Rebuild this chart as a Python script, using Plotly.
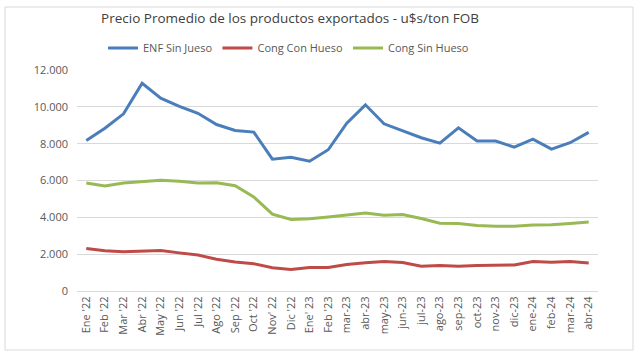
import plotly.graph_objects as go

months = ["Ene '22", "Feb '22", "Mar '22", "Abr '22", "May '22", "Jun '22", "Jul '22",
          "Ago '22", "Sep '22", "Oct '22", "Nov' 22", "Dic '22", "Ene' 23", "Feb '23",
          "mar-23", "abr-23", "may-23", "jun-23", "jul-23", "ago-23", "sep-23", "oct-23",
          "nov-23", "dic-23", "ene-24", "feb-24", "mar-24", "abr-24"]

enf_sin_jueso = [8170, 8840, 9620, 11280, 10470, 10030, 9650, 9040, 8720, 8630, 7160, 7260,
                 7050, 7670, 9110, 10110, 9080, 8720, 8320, 8030, 8860, 8140, 8140, 7810,
                 8250, 7700, 8050, 8610]
cong_con_hueso = [2310, 2180, 2130, 2160, 2200, 2070, 1950, 1720, 1570, 1480, 1260, 1170,
                  1280, 1280, 1440, 1530, 1600, 1550, 1350, 1390, 1350, 1390, 1410, 1410,
                  1600, 1560, 1600, 1520]
cong_sin_hueso = [5860, 5700, 5860, 5955, 6010, 5955, 5860, 5880, 5720, 5110, 4170, 3880,
                  3920, 4020, 4110, 4240, 4110, 4150, 3940, 3680, 3670, 3560, 3520, 3520,
                  3590, 3600, 3670, 3740]

y_ticks = [0, 2000, 4000, 6000, 8000, 10000, 12000]
y_labels = ["0", "2.000", "4.000", "6.000", "8.000", "10.000", "12.000"]

font_family = "Open Sans, Noto Sans, sans-serif"
text_color = "#595959"

fig = go.Figure()
series = [
    ("ENF Sin Jueso", enf_sin_jueso, "#4A7EBB"),
    ("Cong Con Hueso", cong_con_hueso, "#BE4B48"),
    ("Cong Sin Hueso", cong_sin_hueso, "#98B954"),
]
for name, vals, color in series:
    fig.add_trace(go.Scatter(x=list(range(len(months))), y=vals, name=name, mode="lines",
                             line=dict(color=color, width=3)))

L, R, T, B = 77, 42, 70, 63
W, H = 640, 354
pw, ph = W - L - R, H - T - B

def px_to_paper_x(px):
    return (px - L) / pw

def px_to_paper_y(py):
    return (H - B - py) / ph

fig.update_layout(
    width=W, height=H,
    margin=dict(l=L, r=R, t=T, b=B),
    paper_bgcolor="white", plot_bgcolor="white",
    font=dict(family=font_family, color=text_color, size=11),
    title=dict(text="Precio Promedio de los productos exportados - u$s/ton FOB",
               x=px_to_paper_x(290), xref="paper", xanchor="center",
               y=1 - 18 / H, yanchor="middle",
               font=dict(size=13.5, color="#404040")),
    showlegend=True,
    legend=dict(orientation="h", x=px_to_paper_x(103), xanchor="left",
                y=px_to_paper_y(48), yanchor="middle",
                font=dict(size=11, color=text_color),
                itemwidth=30,
                bgcolor="rgba(0,0,0,0)"),
    xaxis=dict(tickmode="array", tickvals=list(range(len(months))), ticktext=months,
               range=[-0.5, len(months) - 0.5], tickangle=-90, showgrid=False,
               showline=True, linecolor="#D9D9D9", linewidth=1, ticks="",
               tickfont=dict(size=11, color=text_color), zeroline=False),
    yaxis=dict(tickmode="array", tickvals=y_ticks, ticktext=y_labels, range=[0, 12000],
               showgrid=True, gridcolor="#D9D9D9", gridwidth=1, zeroline=False,
               showline=False, ticks="", ticklabelstandoff=8,
               tickfont=dict(size=11, color=text_color)),
    shapes=[dict(type="rect", xref="paper", yref="paper",
                 x0=px_to_paper_x(5), x1=px_to_paper_x(633),
                 y0=px_to_paper_y(350), y1=px_to_paper_y(7),
                 line=dict(color="#D9D9D9", width=1), fillcolor="rgba(0,0,0,0)", layer="below")],
)

fig.write_html("out.html")
